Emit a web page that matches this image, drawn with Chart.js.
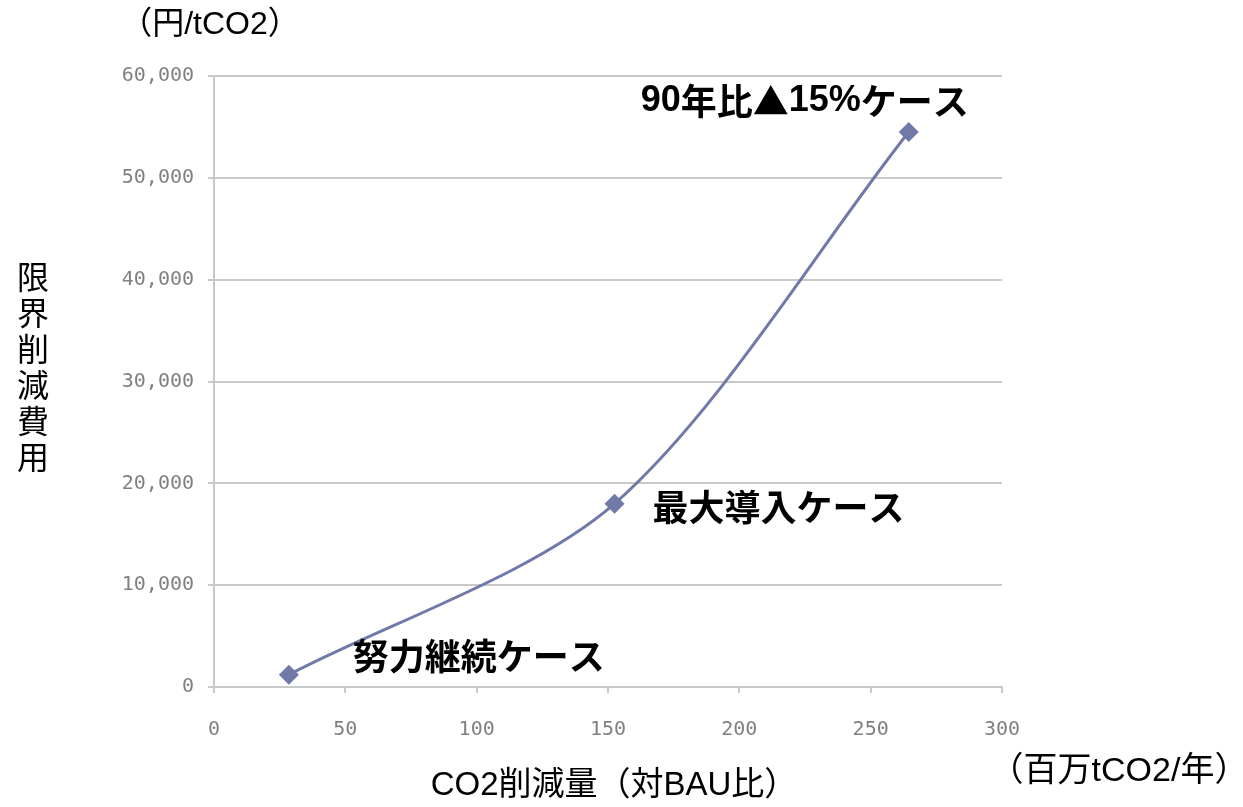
<!DOCTYPE html>
<html>
<head>
<meta charset="utf-8">
<script src="https://cdn.jsdelivr.net/npm/chart.js@4.4.0/dist/chart.umd.min.js"></script>
<style>
  html, body { margin: 0; padding: 0; background: #fff; }
</style>
</head>
<body>
<canvas id="grafico" width="1243" height="807"></canvas>
<script>
// dados
const reducao = [28.5, 152.5, 264.5];          // CO2削減量 (百万tCO2/年)
const custo = [1200, 18000, 54500];            // 限界削減費用 (円/tCO2)
const casos = ['努力継続ケース', '最大導入ケース', '90年比▲15%ケース'];
const ticksX = [0, 50, 100, 150, 200, 250, 300];
const ticksY = [0, 10000, 20000, 30000, 40000, 50000, 60000];

const corLinha = '#7079a8';
const corGrade = '#c9c9c9';
const fonteCJK = '"Liberation Sans", "Noto Sans CJK JP", sans-serif';

// escreve texto misturando fonte latina (Arial) e japonesa
function textoMisto(ctx, texto, x, y, align, tam) {
  const partes = texto.match(/[\x20-\x7e]+|[^\x20-\x7e]+/g);
  const fontes = partes.map(p => /^[\x20-\x7e]/.test(p)
    ? 'bold ' + tam + 'px "Liberation Sans", sans-serif'
    : 'bold ' + tam + 'px "Noto Sans CJK JP", sans-serif');
  let larg = 0;
  const largs = partes.map((p, i) => { ctx.font = fontes[i]; const w = ctx.measureText(p).width; larg += w; return w; });
  let cx = align === 'center' ? x - larg / 2 : x;
  ctx.textAlign = 'left';
  partes.forEach((p, i) => {
    ctx.font = fontes[i];
    ctx.fillText(p, cx, y);
    cx += largs[i];
  });
}

// rótulos dos casos + títulos dos eixos
const rotulos = {
  id: 'rotulos',
  afterDatasetsDraw(chart) {
    const ctx = chart.ctx;
    const meta = chart.getDatasetMeta(0);
    const desloc = [
      { dx: 64, dy: -18, align: 'left' },
      { dx: 38, dy: 4, align: 'left' },
      { dx: -104, dy: -31, align: 'center' }
    ];
    ctx.save();
    ctx.fillStyle = '#000';
    ctx.textBaseline = 'middle';
    meta.data.forEach((p, i) => {
      textoMisto(ctx, casos[i], p.x + desloc[i].dx, p.y + desloc[i].dy, desloc[i].align, 36);
    });

    ctx.font = '32px ' + fonteCJK;
    ctx.textAlign = 'center';
    ctx.fillText('（円/tCO2）', 210, 25);

    // título vertical, um caractere por linha
    const titY = '限界削減費用';
    for (let i = 0; i < titY.length; i++) {
      ctx.fillText(titY[i], 33, 280 + i * 36);
    }

    ctx.font = '33px ' + fonteCJK;
    ctx.fillText('CO2削減量（対BAU比）', 614, 786);
    ctx.font = '34px ' + fonteCJK;
    ctx.fillText('（百万tCO2/年）', 1119, 772);
    ctx.restore();
  }
};

new Chart(document.getElementById('grafico'), {
  type: 'scatter',
  data: {
    datasets: [{
      data: reducao.map((x, i) => ({ x: x, y: custo[i] })),
      showLine: true,
      tension: 0.3,
      borderColor: corLinha,
      borderWidth: 3,
      backgroundColor: corLinha,
      pointStyle: 'rectRot',
      pointRadius: 10,
      pointBorderWidth: 0
    }]
  },
  options: {
    responsive: false,
    animation: false,
    layout: { padding: { top: 76, right: 241, left: 0, bottom: 0 } },
    plugins: { legend: { display: false }, tooltip: { enabled: false } },
    scales: {
      x: {
        type: 'linear',
        min: ticksX[0],
        max: ticksX[ticksX.length - 1],
        afterFit: (s) => { s.height = 120; },
        ticks: {
          stepSize: ticksX[1] - ticksX[0],
          padding: 25,
          color: '#808080',
          font: { family: '"DejaVu Sans Mono", monospace', size: 20 }
        },
        grid: { drawOnChartArea: false, tickLength: 6, color: corGrade, lineWidth: 2 },
        border: { display: true, color: corGrade, width: 2 }
      },
      y: {
        min: ticksY[0],
        max: ticksY[ticksY.length - 1],
        afterFit: (s) => { s.width = 214; },
        ticks: {
          stepSize: ticksY[1] - ticksY[0],
          padding: 14,
          color: '#808080',
          font: { family: '"DejaVu Sans Mono", monospace', size: 20 },
          callback: (v) => v.toLocaleString('en-US')
        },
        grid: { tickLength: 6, color: corGrade, lineWidth: 2 },
        border: { display: true, color: corGrade, width: 2 }
      }
    }
  },
  plugins: [rotulos]
});
</script>
</body>
</html>
